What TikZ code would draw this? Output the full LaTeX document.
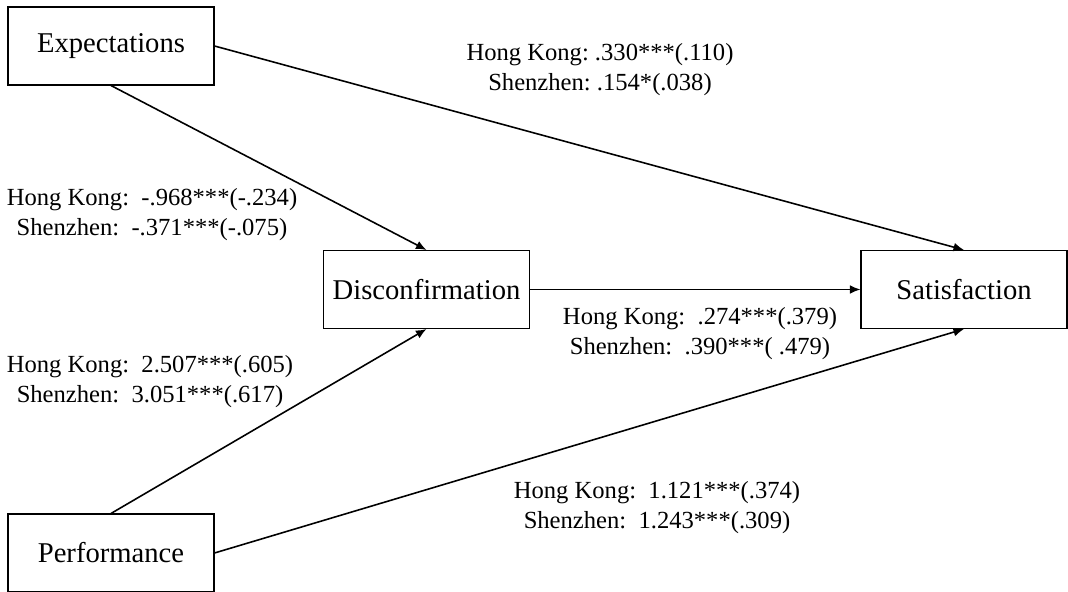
\documentclass[tikz,border=0pt]{standalone}
\usepackage{fontspec}
\setmainfont{Liberation Serif}
\usetikzlibrary{arrows.meta}
\usetikzlibrary{positioning}

\tikzset{
  var/.style={draw, line width=0.6pt, minimum width=4.12cm, minimum height=1.56cm, inner sep=0pt, font=\fontsize{16.3}{19}\selectfont},
  coef/.style={align=center, inner sep=0pt, font=\frenchspacing\fontsize{14}{17}\selectfont},
  path/.style={line width=0.9pt, -{Latex[length=6pt,width=5pt]}}
}

\begin{document}
\begin{tikzpicture}
  \useasboundingbox (0,0) rectangle (21.36,11.84);

  % Variables
  \node[var] (exp) at (2.22,10.92) {Expectations};
  \node[var] (perf) at (2.22,0.78) {Performance};
  \node[var] (dis) at (8.53,6.05) {Disconfirmation};
  \node[var] (sat) at (19.28,6.05) {Satisfaction};

  % Paths
  \draw[path] (exp.east) -- (sat.north);
  \draw[path] (exp.south) -- (dis.north);
  \draw[path] (dis.east) -- (sat.west);
  \draw[path] (perf.north) -- (dis.south);
  \draw[path] (perf.east) -- (sat.south);

  % Coefficients
  \node[coef] (c1) at (12.0,10.44) {Hong Kong: .330***(.110)\\Shenzhen: .154*(.038)};
  \node[coef] (c2) at (3.04,7.54) {Hong Kong:\ \ -.968***(-.234)\\Shenzhen:\ \ -.371***(-.075)};
  \node[coef] (c3) at (3.0,4.2) {Hong Kong:\ \ 2.507***(.605)\\Shenzhen:\ \ 3.051***(.617)};
  \node[coef] (c4) at (14.0,5.16) {Hong Kong:\ \ .274***(.379)\\Shenzhen:\ \ .390***( .479)};
  \node[coef] (c5) at (13.14,1.68) {Hong Kong:\ \ 1.121***(.374)\\Shenzhen:\ \ 1.243***(.309)};
\end{tikzpicture}
\end{document}
